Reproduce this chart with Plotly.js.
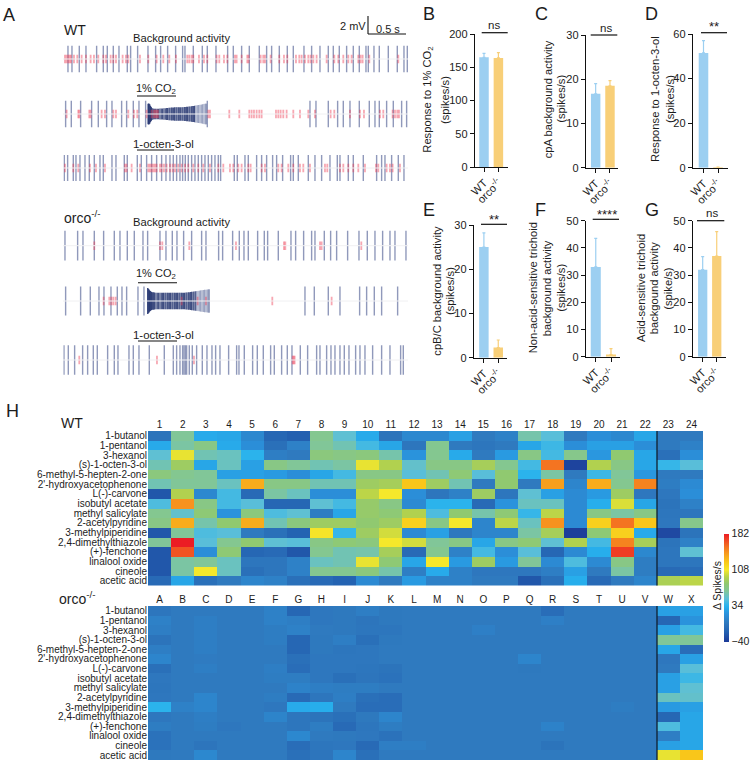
<!DOCTYPE html>
<html><head><meta charset="utf-8">
<script src="https://cdn.plot.ly/plotly-3.0.1.min.js"></script>
<style>html,body{margin:0;padding:0;background:#fff}#c{width:750px;height:765px}</style>
</head><body><div id="c"></div>
<script>
// ---------- Panel A: spike positions (1 unit = 1/225 s)
const wt1Blue=[204,216,238,258,290,310,322,340,357,382,392,413,444,467,482,503,527,548,555,580,607,622,648,683,700,725,748,778,800,815,838,862,880,912,935,960,985,1000,1018,1040,1060,1078,1098,1105,1122,1138,1165,1192,1212,1222];
const wt1Red=[195,200,205,209,213,222,232,245,258,272,282,295,310,318,332,340,348,368,378,385,420,445,470,490,508,528,562,568,575,580,597,612,622,650,658,672,682,705,710,725,742,746,782,790,795,812,838,852,862,888,898,905,915,925,932,940,950,980,1003,1015,1030,1045,1055,1075,1082,1088,1108,1195];
const wt2Blue=[197,214,242,275,295,320,336,365,380,400,417,437,622,930,948,985,1013,1030,1050,1078,1108,1125,1138,1160,1180,1205,1220];
const wt2Red=[200,235,238,268,272,305,315,340,348,385,402,412,440,625,630,688,718,748,755,762,770,778,785,828,835,842,850,860,880,900,925,945,992,1003,1050,1080,1092,1140,1150,1178,1185,1192,1197];
const wt2BurstDarkX=[444,446,448,450,452,454,456,459,462,465,468,472,476,480,484,488,492,496,500,503,507,510,514,517,521,524,528,531,535,538,542,546,549,553,556,560,563,567,570,574,577,581,584];
const wt2BurstDarkAmp=[1.15,1.18,1.15,1.05,.9,.78,.68,.62,.58,.57,.57,.57,.58,.6,.62,.62,.65,.65,.68,.68,.7,.7,.72,.72,.72,.74,.74,.74,.74,.74,.74,.76,.76,.78,.78,.8,.8,.82,.84,.86,.88,.9,.92];
const wt2BurstLightX=[588,592,596,600,604,608,612,616,619];
const wt2BurstLightAmp=[.96,.98,1,1.02,1.05,1.08,1.12,1.15,1.15];
const wt2BurstRed=[455,462,466,470,474];
const wt3Blue=[193,203,220,228,240,255,268,283,300,310,336,348,373,382,412,424,440,455,470,485,498,510,520,530,540,548,556,565,575,585,595,605,615,625,635,645,655,662,703,712,735,745,770,785,800,818,830,848,872,880,895,925,945,965,990,1012,1020,1045,1060,1090,1130,1145,1155,1175,1195,1212];
const wt3Red=[195,220,235,270,288,315,375,380,395,420,445,450,455,460,465,470,480,485,492,500,510,518,525,535,545,555,565,580,595,610,630,655,670,690,700,715,725,745,752,785,795,835,845,865,880,900,910,930,975,982,1020,1030,1045,1060,1075,1095,1128,1135,1160,1170,1178,1200];
const orco1Blue=[195,233,249,283,311,343,360,382,403,429,443,480,498,517,531,551,575,605,618,656,668,698,718,732,745,773,793,803,835,873,887,911,935,945,973,992,1010,1043,1077,1102,1125,1148,1170,1185,1218];
const orco1Red=[283,480,487,568,708,852,856,960,965,1084];
const orco2Blue=[197,242,271,297,312,333,352,366,380,414,432,915,943,985,1020,1079,1100,1123,1145,1193];
const orco2Red=[311,328,334,340,347,545,593,618,817,995];
const orco2BurstDarkX=[443,445,447,449,451,453,455,458,461,464,468,472,476,480,484,488,491,495,498,502,505,509,512,516,519,523,526,530,533,537,540,544,547,551,554,558,561,565,568,572,575,579,582,586];
const orco2BurstDarkAmp=[1.45,1.4,1.3,1.2,1.12,1.05,1,.98,.96,.94,.92,.92,.92,.92,.92,.92,.92,.92,.92,.92,.92,.92,.92,.92,.92,.92,.92,.92,.92,.92,.92,.92,.92,.92,.92,.94,.94,.96,.98,1,1.02,1.04,1.06,1.08];
const orco2BurstLightX=[590,594,598,602,606,610,614,618,622,626,628];
const orco2BurstLightAmp=[1.1,1.12,1.15,1.18,1.2,1.22,1.25,1.25,1.28,1.3,1.3];
const orco3Blue=[192,205,224,248,263,280,292,323,343,354,387,400,417,448,493,520,530,540,548,552,556,560,568,577,590,607,621,636,647,660,686,710,717,733,758,772,790,812,823,845,862,876,901,923,950,960,980,993,1005,1020,1033,1047,1067,1080,1095,1118,1145,1170,1202,1210];
const orco3Red=[238,471,582,878,881,884];

// ---------- Panels B-G: bar means and upper error limits
const genotypes=['WT','orco<sup>-/-</sup>'];
const barB=[165,164], errB=[171,172];
const barC=[16.7,18.5], errC=[19,19.7];
const barD=[51.5,0.3], errD=[57,0.3];
const barE=[25,2.3], errE=[28.2,4];
const barF=[33,0.8], errF=[43.5,3];
const barG=[32,37], errG=[36.8,46];

// ---------- Panel H: heat maps
const odorants=['1-butanol','1-pentanol','3-hexanol','(s)-1-octen-3-ol','6-methyl-5-hepten-2-one',"2'-hydroxyacetophenone",'L(-)-carvone','isobutyl acetate','methyl salicylate','2-acetylpyridine','3-methylpiperidine','2,4-dimethylthiazole','(+)-fenchone','linalool oxide','cineole','acetic acid'];
const wtColumns=['1','2','3','4','5','6','7','8','9','10','11','12','13','14','15','16','17','18','19','20','21','22','23','24'];
const orcoColumns=['A','B','C','D','E','F','G','H','I','J','K','L','M','N','O','P','Q','R','S','T','U','V','W','X'];
const wtZ=[
[-5,65,30,28,10,-15,-20,68,50,30,-5,10,10,25,0,5,60,48,0,15,10,28,0,0],
[30,62,72,30,15,-8,5,65,58,42,28,-3,68,0,-3,0,28,40,15,25,25,15,0,5],
[50,105,58,55,35,3,0,75,72,75,60,18,68,30,0,22,72,42,70,20,80,28,-8,15],
[58,85,28,55,25,72,65,58,62,105,92,52,72,72,88,68,42,155,-35,92,72,28,38,48],
[75,68,65,25,25,22,15,28,42,72,72,48,58,78,48,80,35,62,0,40,65,20,0,0],
[58,65,65,55,135,72,72,58,58,85,88,125,85,58,0,80,0,140,8,135,68,150,2,12],
[-25,92,10,42,-12,62,55,15,15,95,108,15,-3,5,85,-3,50,25,12,22,85,-2,-2,15],
[45,145,72,42,48,-15,-15,50,42,82,72,12,35,35,-12,18,55,55,12,32,102,28,-5,5],
[68,52,78,18,75,45,50,2,28,82,78,92,45,80,60,78,38,95,12,72,62,72,-3,-3],
[72,135,60,80,135,58,75,85,85,80,85,120,72,108,8,95,55,145,12,120,155,125,-2,70],
[-25,65,45,48,0,-8,-18,110,38,85,100,12,25,-2,8,8,62,88,-38,78,120,30,-32,-5],
[65,182,48,68,80,50,48,72,78,75,108,100,65,72,28,72,78,50,92,42,150,88,-5,5],
[-25,165,15,78,-15,-12,-25,68,58,60,88,-12,68,5,42,15,48,-15,12,32,172,10,-3,50],
[-25,62,65,55,-3,-3,5,55,58,105,78,28,108,22,85,22,65,12,45,12,72,2,-3,-3],
[-25,62,108,55,-8,-3,5,68,68,75,60,3,30,5,-2,-2,-2,3,25,0,62,2,-12,-10],
[-12,28,-8,0,8,5,-8,-12,-18,12,0,22,5,5,0,0,-25,-8,32,-12,0,8,90,95]];
const orcoZ=[
[-3,0,0,0,0,5,-15,-2,-1,3,-1,0,0,0,0,0,0,-10,0,0,0,0,25,25],
[5,0,3,0,0,5,3,-2,-1,-4,-1,0,0,0,0,0,0,4,0,0,0,0,-15,18],
[3,0,3,0,0,2,5,0,-1,-3,-3,0,0,0,4,0,0,0,0,0,0,0,25,42],
[-5,0,3,0,0,2,-15,-1,3,-8,-1,0,0,0,0,0,0,0,0,0,0,0,65,65],
[3,0,3,0,0,0,-15,-1,-3,-2,0,0,0,0,0,0,0,0,0,0,0,0,28,-10],
[8,0,1,0,0,0,-8,-2,-2,-2,0,0,0,0,0,0,8,0,0,0,0,0,-2,25],
[-8,0,3,0,0,3,-10,-2,-2,-3,-5,0,0,0,0,0,-1,0,0,0,0,0,0,48],
[-2,0,0,0,0,2,2,-2,-8,-4,-6,0,0,0,0,0,0,0,0,0,0,0,25,40],
[-3,0,0,0,0,0,6,3,2,2,0,0,0,0,0,0,0,0,0,0,0,0,25,50],
[-2,0,8,0,0,2,-12,-3,3,-8,-10,0,0,0,0,0,0,0,0,0,0,0,55,52],
[35,5,8,0,0,-2,30,32,0,-10,-10,0,0,0,0,0,0,0,0,0,2,0,22,25],
[-2,0,3,0,0,7,-3,-5,-8,-1,8,0,0,0,0,0,0,0,0,0,0,0,-15,28],
[2,0,2,-2,0,0,-3,2,-12,-3,2,0,0,0,0,0,0,6,0,0,0,0,45,28],
[-6,0,0,0,0,0,10,0,-1,-2,-6,0,0,0,0,0,0,0,0,0,0,0,3,28],
[-6,0,-4,0,0,0,-10,-3,-2,-12,3,3,0,0,0,0,0,-5,0,0,0,0,25,28],
[-1,0,10,0,0,0,-8,-4,8,-8,0,0,0,0,0,0,0,0,0,0,0,0,105,125]];
const colorTicks=[-40,34,108,182];

// ---------- layout helpers (pixel positions on the 750x765 page)
const W=750,H=765,FONT='"Liberation Sans", Arial, sans-serif',INK='#1c1c1c';
const px=x=>x/W, py=y=>1-y/H;
const BLUE='#9ccff1', ORANGE='#f8cf78';
const data=[], annotations=[], shapes=[];
const layout={width:W,height:H,margin:{l:0,r:0,t:0,b:0},paper_bgcolor:'#fff',plot_bgcolor:'rgba(0,0,0,0)',
  showlegend:false,barmode:'overlay',font:{family:FONT,color:INK,size:11},annotations,shapes,
  xaxis:{domain:[px(63.3),px(408.3)],range:[190,1225],visible:false,fixedrange:true,anchor:'y'}};

function text(t,x,y,size,anchor,extra){annotations.push(Object.assign({text:t,x:px(x),y:py(y),xref:'paper',yref:'paper',showarrow:false,xanchor:anchor||'left',yanchor:'middle',font:{size:size,family:FONT,color:INK},borderpad:0,borderwidth:0},extra||{}));}
function line(x0,y0,x1,y1,w,color){shapes.push({type:'line',xref:'paper',yref:'paper',x0:px(x0),y0:py(y0),x1:px(x1),y1:py(y1),line:{width:w||1,color:color||'#111'}});}

// ---------- Panel A
const spikeLayers=(xs,amp)=>{const X=[],Y=[];xs.forEach((x,i)=>{const a=Array.isArray(amp)?amp[i]:amp;X.push(x,x,null);Y.push(-a,a,null);});return {x:X,y:Y};};
function addSpikes(xs,amp,yName,color,w){const s=spikeLayers(xs,amp);data.push({type:'scatter',mode:'lines',x:s.x,y:s.y,xaxis:'x',yaxis:yName,line:{color:color,width:w},hoverinfo:'skip',connectgaps:false});}
const blueC='rgba(125,135,175,0.85)',redC='rgba(238,60,85,0.45)',darkC='rgba(25,42,105,0.88)',midC='rgba(70,85,140,0.62)';
const traceRows=[
 {c:59,amp:1.48,blue:wt1Blue,red:wt1Red},
 {c:114,amp:1.48,blue:wt2Blue,red:wt2Red.concat(wt2BurstRed),burst:[wt2BurstDarkX,wt2BurstDarkAmp,wt2BurstLightX,wt2BurstLightAmp]},
 {c:168,amp:1.45,blue:wt3Blue,red:wt3Red},
 {c:245.7,amp:1.65,blue:orco1Blue,red:orco1Red},
 {c:301,amp:1.62,blue:orco2Blue,red:orco2Red,burst:[orco2BurstDarkX,orco2BurstDarkAmp,orco2BurstLightX,orco2BurstLightAmp]},
 {c:360,amp:1.65,blue:orco3Blue,red:orco3Red}];
traceRows.forEach((r,i)=>{
  const n=i+1,key='yaxis'+(n===1?'':n),yName='y'+(n===1?'':n);
  layout[key]={domain:[py(r.c+18),py(r.c-18)],range:[-2,2],visible:false,fixedrange:true,anchor:'x'};
  line(63,r.c,408,r.c,1,'#f0f0f2');
  addSpikes(r.blue,r.amp,yName,blueC,1.4);
  if(r.burst){addSpikes(r.burst[0],r.burst[1],yName,darkC,1.1);addSpikes(r.burst[2],r.burst[3],yName,midC,1);}
  addSpikes(r.red,0.47,yName,redC,1.8);
});
text('WT',64,30,14);
text('Background activity',181,38,11.2,'center');
text('1% CO<sub>2</sub>',155.5,89,11,'center');
line(137,96,176,96,1.1);
text('1-octen-3-ol',163,144,11.4,'center');
line(137,150,174,150,1.1);
text('2 mV',340,26,11);
text('0.5 s',388,29,11,'center');
line(368,16,368,34,1.1); line(368,34,406,34,1.1);
text('orco<sup>-/-</sup>',64,217,14);
text('Background activity',181,222,11.2,'center');
text('1% CO<sub>2</sub>',155.5,274,11,'center');
line(138,282.7,177,282.7,1.1);
text('1-octen-3-ol',163,335,11.4,'center');
line(138,341,177,341,1.1);

// ---------- Panels B-G
const panels=[
 {bar:barB,err:errB,max:200,dt:50,l:475,r:508,t:34,b:167,range:[-.625,1.667],title:['Response to 1% CO<sub>2</sub>','(spikes/s)'],tx:[427.7,445],ty:100,sig:'ns',sx:[481.7,507.7,32.7,494,25]},
 {bar:barC,err:errC,max:30,dt:10,l:586,r:618,t:35,b:167.7,range:[-.675,1.56],title:['cpA background activity','(spikes/s)'],tx:[548.3,560.7],ty:99,sig:'ns',sx:[590.7,617.3,35,605.7,27.7]},
 {bar:barD,err:errD,max:60,dt:20,l:693,r:728,t:34,b:167.7,range:[-.724,1.69],title:['Response to 1-octen-3-ol','(spikes/s)'],tx:[655,670],ty:99,sig:'**',sx:[701,727,32.7,714,27]},
 {bar:barE,err:errE,max:30,dt:10,l:474,r:507,t:225,b:357.7,range:[-.69,1.61],title:['cpB/C background activity','(spikes/s)'],tx:[436.7,450],ty:291,sig:'**',sx:[481,507,224.3,494,219]},
 {bar:barF,err:errF,max:50,dt:10,l:586,r:620,t:220.7,b:356.7,range:[-.64,1.59],title:['Non-acid-sensitive trichoid','background activity','(spikes/s)'],tx:[533.3,547.3,560.7],ty:288,sig:'****',sx:[592.7,619,219.3,606.7,214.5]},
 {bar:barG,err:errG,max:50,dt:10,l:693,r:726,t:220.7,b:356.7,range:[-.69,1.66],title:['Acid-sensitive trichoid','backgound activity','(spike/s)'],tx:[641,654.3,667.7],ty:288,sig:'ns',sx:[697,724.3,220.7,712,212.7]}];
panels.forEach((p,i)=>{
  const n=10+i,xk='xaxis'+n,yk='yaxis'+n,xn='x'+n,yn='y'+n;
  layout[xk]={domain:[px(p.l),px(p.r)],type:'category',categoryorder:'array',categoryarray:genotypes,range:p.range,anchor:yn,
    showline:true,linecolor:'#111',linewidth:1.2,ticks:'outside',ticklen:4,tickcolor:'#111',tickwidth:1,tickangle:-45,
    tickfont:{size:11,family:FONT,color:INK},showgrid:false,zeroline:false,fixedrange:true};
  layout[yk]={domain:[py(p.b),py(p.t)],range:[0,p.max],anchor:xn,dtick:p.dt,tick0:0,showline:true,linecolor:'#111',linewidth:1.2,
    ticks:'outside',ticklen:4,tickcolor:'#111',tickwidth:1,tickfont:{size:11,family:FONT,color:INK},showgrid:false,zeroline:false,fixedrange:true};
  [0,1].forEach(j=>{
    const c=j?ORANGE:BLUE;
    data.push({type:'bar',x:[genotypes[j]],y:[p.bar[j]],width:.66,xaxis:xn,yaxis:yn,marker:{color:c,line:{width:0}},
      error_y:{type:'data',symmetric:false,array:[p.err[j]-p.bar[j]],arrayminus:[0],color:c,thickness:1.2,width:1.5},hoverinfo:'skip'});
  });
  p.title.forEach((t,k)=>text(t,p.tx[k],p.ty,11.2,'center',{textangle:-90}));
  line(p.sx[0],p.sx[2],p.sx[1],p.sx[2],1.2);
  text(p.sig,p.sx[3],p.sx[4],p.sig==='ns'?11.5:13,'center');
});
[['A',3,15],['B',423,14],['C',535,14],['D',645,14],['E',423,210],['F',535,210],['G',645,210],['H',6,411]].forEach(l=>text(l[0],l[1],l[2],18));

// ---------- Panel H
function heatAxes(n,top,bottom){
  layout['xaxis'+n]={domain:[px(148),px(703)],type:'category',side:'top',anchor:'y'+n,ticks:'',ticklen:0,tickangle:0,
    tickfont:{size:10,family:FONT,color:INK},tickmode:'linear',dtick:1,showgrid:false,zeroline:false,showline:false,fixedrange:true};
  layout['yaxis'+n]={domain:[py(bottom),py(top)],type:'category',autorange:'reversed',anchor:'x'+n,ticks:'',ticklen:0,
    tickfont:{size:10,family:FONT,color:INK},tickmode:'linear',dtick:1,showgrid:false,zeroline:false,showline:false,fixedrange:true};
}
heatAxes(20,431,585.5); heatAxes(21,606,760);
data.push({type:'heatmap',x:wtColumns,y:odorants,z:wtZ,xaxis:'x20',yaxis:'y20',coloraxis:'coloraxis',hoverinfo:'skip'});
data.push({type:'heatmap',x:orcoColumns,y:odorants,z:orcoZ,xaxis:'x21',yaxis:'y21',coloraxis:'coloraxis',hoverinfo:'skip'});
layout.coloraxis={cmin:-40,cmax:182,colorscale:[[0,'#1c3a98'],[.09,'#2360b0'],[.18,'#2f7abf'],[.26,'#2a92dc'],[.333,'#27b2ee'],[.40,'#5cbfd8'],[.47,'#80c69a'],[.54,'#90c970'],[.60,'#b4d24c'],[.667,'#f5e82b'],[.74,'#f9c81a'],[.83,'#f7941e'],[.9,'#f26522'],[1,'#ec1c24']],
  colorbar:{x:px(724),xanchor:'left',xpad:0,y:py(641.5),yanchor:'bottom',ypad:0,lenmode:'pixels',len:108,thicknessmode:'pixels',thickness:4.5,
    outlinewidth:0,tickmode:'array',tickvals:colorTicks,ticks:'',ticklen:0,tickfont:{size:10.5,family:FONT,color:INK}}};
line(657,431,657,585.5,1.3,'#10202e'); line(657,606,657,760,1.3,'#10202e');
text('WT',61,423,14);
text('orco<sup>-/-</sup>',59,598,14);
text('Δ Spikes/s',717,586,10.5,'center',{textangle:-90});

Plotly.newPlot('c',data,layout,{staticPlot:true,displayModeBar:false});
</script></body></html>
